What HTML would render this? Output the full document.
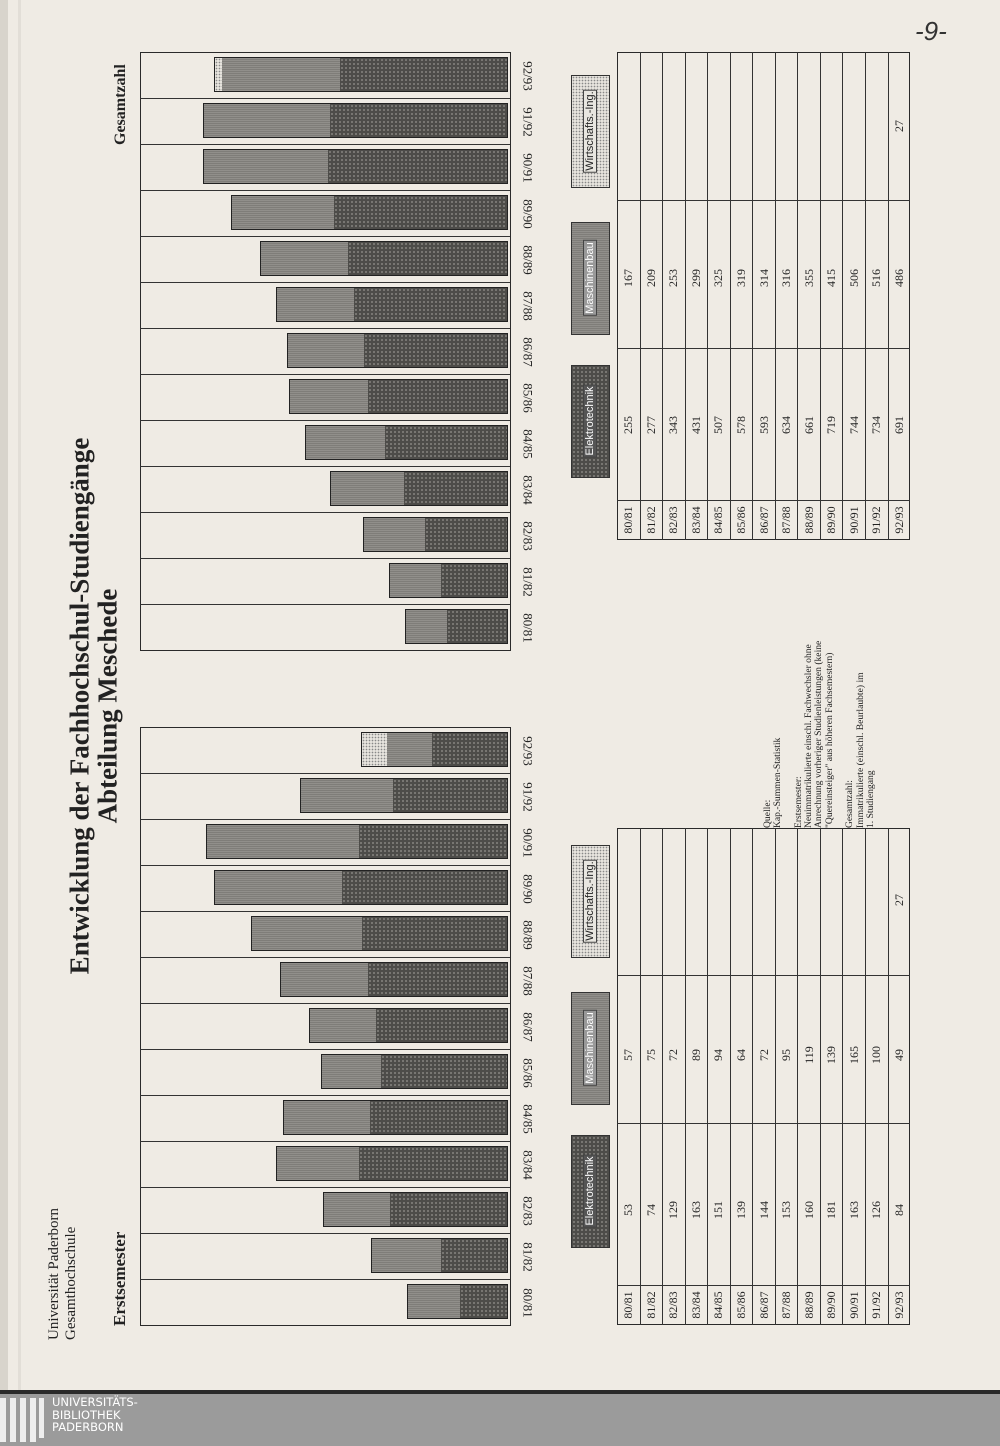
<!DOCTYPE html>
<html><head><meta charset="utf-8">
<style>
html,body{margin:0;padding:0}
body{width:1000px;height:1446px;position:relative;overflow:hidden;background:#efebe4;font-family:"Liberation Serif",serif;color:#222}
.a{position:absolute}
.t{position:absolute;white-space:nowrap;transform-origin:0 0;transform:rotate(-90deg);line-height:1}
.c{position:absolute;white-space:nowrap;transform:translate(-50%,-50%) rotate(-90deg);line-height:1}
.cr{position:absolute;white-space:nowrap;transform:translate(-50%,-50%) rotate(90deg);line-height:1}
.box{position:absolute;border:1.5px solid #2a2a2a;box-sizing:border-box}
.dk{position:absolute;background:radial-gradient(circle,#8d8b86 0.7px,transparent 1.1px) 0 0/4px 4px,#4d4c49}
.md{position:absolute;background:repeating-linear-gradient(0deg,#918f8b 0 1px,#7f7d79 1px 2px)}
.wi{position:absolute;background:radial-gradient(circle,#888 0.6px,transparent 1px) 0 0/3px 3px,#e6e3dd}
.bar{position:absolute;border:1px solid #222;box-sizing:border-box;overflow:hidden}
.hl{position:absolute;height:1px;background:#333}
.vl{position:absolute;width:1px;background:#333}
.leg{position:absolute;border:1.5px solid #333;box-sizing:border-box}
.legt{font-family:"Liberation Sans",sans-serif;font-size:11px;position:absolute;white-space:nowrap;transform:translate(-50%,-50%) rotate(-90deg);padding:0 1px;border:1px solid #444}
</style></head><body>
<div class="a" style="left:0;top:0;width:8px;height:1392px;background:#d8d4cc"></div>
<div class="a" style="left:18px;top:0;width:3px;height:1392px;background:#e2ded7"></div>

<div class="t" style="left:47px;top:1340px;font-size:15px">Universität Paderborn</div>
<div class="t" style="left:64px;top:1340px;font-size:15px">Gesamthochschule</div>
<div class="t" style="left:111px;top:1326px;font-size:17px;font-weight:bold">Erstsemester</div>
<div class="t" style="left:113px;top:145px;font-size:16px;font-weight:bold">Gesamtzahl</div>
<div class="c" style="left:80px;top:706px;font-size:27px;font-weight:bold">Entwicklung der Fachhochschul-Studiengänge</div>
<div class="c" style="left:108px;top:706px;font-size:27px;font-weight:bold">Abteilung Meschede</div>

<div class="a" style="left:915px;top:16px;font-size:26px;font-family:'Liberation Sans',sans-serif;font-style:italic;color:#333">-9-</div>

<div id="charts"></div>

<div class="t" style="left:763px;top:828px;font-size:9.6px;line-height:10.3px;width:200px">Quelle:<br>Kap.-Summen-Statistik<br><br>Erstsemester:<br>Neuimmatrikulierte einschl. Fachwechsler ohne<br>Anrechnung vorheriger Studienleistungen (keine<br>"Quereinsteiger" aus höheren Fachsemestern)<br><br>Gesamtzahl:<br>Immatrikulierte (einschl. Beurlaubte) im<br>1. Studiengang</div>

<div class="a" style="left:0;top:1390px;width:1000px;height:4px;background:#2a2a2a"></div>
<div class="a" style="left:0;top:1394px;width:1000px;height:52px;background:#9b9b9b"></div>
<div class="a" style="left:0;top:1398px;width:6px;height:44px;background:#eee"></div>
<div class="a" style="left:10px;top:1398px;width:6px;height:44px;background:#eee"></div>
<div class="a" style="left:20px;top:1398px;width:6px;height:44px;background:#eee"></div>
<div class="a" style="left:30px;top:1398px;width:6px;height:44px;background:#eee"></div>
<div class="a" style="left:39px;top:1398px;width:5px;height:40px;background:#eee"></div>
<div class="a" style="left:52px;top:1396px;font-family:'DejaVu Sans',sans-serif;font-size:11.5px;line-height:12.5px;color:#fff">UNIVERSITÄTS-<br>BIBLIOTHEK<br>PADERBORN</div>

<script>
var labels=["80/81","81/82","82/83","83/84","84/85","85/86","86/87","87/88","88/89","89/90","90/91","91/92","92/93"];
var erstE=[53,74,129,163,151,139,144,153,160,181,163,126,84];
var erstM=[57,75,72,89,94,64,72,95,119,139,165,100,49];
var gesE=[255,277,343,431,507,578,593,634,661,719,744,734,691];
var gesM=[167,209,253,299,325,319,314,316,355,415,506,516,486];
var h="";
function chart(top,E,M,sc,W){
  h+='<div class="box" style="left:140px;top:'+top+'px;width:371px;height:599px"></div>';
  for(var k=0;k<13;k++){
    var i=12-k; var y=top+46*k;
    if(k>0) h+='<div class="hl" style="left:140px;top:'+y+'px;width:370px"></div>';
    var e=E[i]*sc, m=M[i]*sc, w=(i==12?W*sc:0);
    var R=508, x=R-e-m-w;
    h+='<div class="bar" style="left:'+x.toFixed(1)+'px;top:'+(y+5)+'px;width:'+(e+m+w).toFixed(1)+'px;height:35px">';
    if(w) h+='<div class="wi" style="left:0;top:0;width:'+w.toFixed(1)+'px;height:100%;border-right:1px solid #333"></div>';
    h+='<div class="md" style="left:'+w.toFixed(1)+'px;top:0;width:'+m.toFixed(1)+'px;height:100%"></div>';
    h+='<div class="dk" style="left:'+(w+m).toFixed(1)+'px;top:0;width:'+(e+1).toFixed(1)+'px;height:100%"></div></div>';
    h+='<div class="cr" style="left:528px;top:'+(y+24)+'px;font-size:13px">'+labels[i]+'</div>';
  }
}
chart(52,gesE,gesM,0.244,27);
chart(727,erstE,erstM,0.92,27);
function legend(y0){
  var L=[["Elektrotechnik","dk",y0+313,"#fff","#555"],["Maschinenbau","md",y0+170,"#fff","#999"],["Wirtschafts.-Ing.","wi",y0+23,"#222","#e8e6e0"]];
  L.forEach(function(l){
    h+='<div class="leg '+l[1]+'" style="left:571px;top:'+l[2]+'px;width:39px;height:113px"></div>';
    h+='<div class="legt" style="left:590px;top:'+(l[2]+56)+'px;background:'+l[4]+';color:'+l[3]+'">'+l[0]+'</div>';
  });
}
legend(52);legend(822);
function table(top,bot,sepH,sepM,sepW,E,M,yE,yM,yW){
  var L=617,R=910,rw=(R-L)/13;
  h+='<div class="box" style="left:'+L+'px;top:'+top+'px;width:'+(R-L)+'px;height:'+(bot-top)+'px;border-width:1px"></div>';
  [sepH,sepM,sepW].forEach(function(s){h+='<div class="hl" style="left:'+L+'px;top:'+s+'px;width:'+(R-L)+'px"></div>';});
  for(var i=0;i<13;i++){
    var x=L+rw*i;
    if(i>0) h+='<div class="vl" style="left:'+x.toFixed(1)+'px;top:'+top+'px;height:'+(bot-top)+'px"></div>';
    var cx=x+rw/2;
    h+='<div class="c" style="left:'+cx.toFixed(1)+'px;top:'+((sepH+bot)/2)+'px;font-size:12px">'+labels[i]+'</div>';
    h+='<div class="c" style="left:'+cx.toFixed(1)+'px;top:'+yE+'px;font-size:12px">'+E[i]+'</div>';
    h+='<div class="c" style="left:'+cx.toFixed(1)+'px;top:'+yM+'px;font-size:12px">'+M[i]+'</div>';
    if(i==12) h+='<div class="c" style="left:'+cx.toFixed(1)+'px;top:'+yW+'px;font-size:12px">27</div>';
  }
}
table(52,540,500,348,200,gesE,gesM,425,278,126);
table(828,1325,1285,1123,975,erstE,erstM,1210,1055,900);
document.getElementById("charts").innerHTML=h;
</script>
</body></html>
